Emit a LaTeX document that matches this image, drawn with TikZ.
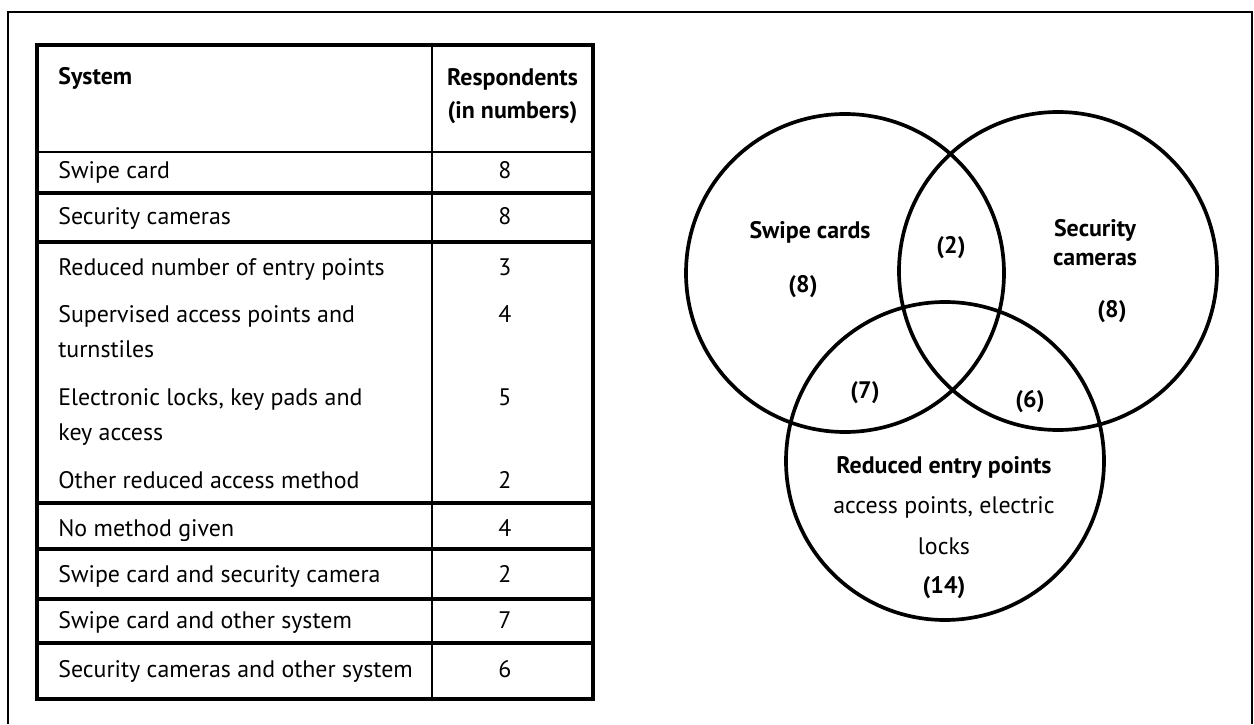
\documentclass[tikz,border=0pt]{standalone}
\usepackage{fontspec}
\setmainfont{PT Sans}
\usetikzlibrary{positioning}

\tikzset{
  cell/.style={anchor=base west, inner sep=0pt, font=\fontsize{13.6}{16}\selectfont},
  num/.style={anchor=base, inner sep=0pt, font=\fontsize{13.6}{16}\selectfont},
  head/.style={inner sep=0pt, font=\fontsize{13.6}{16}\selectfont\bfseries},
  ring/.style={draw, circle, line width=2.1pt, minimum size=6.36cm, inner sep=0pt},
  vtag/.style={inner sep=0pt, font=\fontsize{13.6}{16}\selectfont\bfseries},
  vtext/.style={inner sep=0pt, font=\fontsize{13.6}{16}\selectfont},
  fatrule/.style={line width=1.8pt},
  thinrule/.style={line width=0.7pt}
}

\begin{document}
\begin{tikzpicture}
  \useasboundingbox (0,0) rectangle (25.08,14.48);
  % Outer frame
  \draw[thinrule] (0.16,0) -- (0.16,14.24) -- (25.04,14.24) -- (25.04,0);
  % Table rules
  \draw[thinrule] (0.74,11.44) -- (11.86,11.44);
  \draw[thinrule] (8.64,13.58) -- (8.64,0.50);
  \foreach \y in {10.62,9.64,4.42,3.50,2.50,1.62}
    \draw[fatrule] (0.74,\y) -- (11.86,\y);
  \draw[fatrule] (0.74,0.50) rectangle (11.86,13.58);
  % Table header
  \node[head, anchor=base west] (syshead) at (1.16,12.78) {System};
  \node[head, anchor=base] (reshead) at (10.25,12.76) {Respondents};
  \node[head, anchor=base] (reshead2) at (10.25,12.10) {(in numbers)};
  % Table rows
  \node[cell] (r1) at (1.16,10.90) {Swipe card};
  \node[num] (n1) at (10.10,10.90) {8};
  \node[cell] (r2) at (1.16,9.98) {Security cameras};
  \node[num] (n2) at (10.10,9.98) {8};
  \node[cell] (r3) at (1.16,8.96) {Reduced number of entry points};
  \node[num] (n3) at (10.10,8.96) {3};
  \node[cell] (r4) at (1.16,8.02) {Supervised access points and};
  \node[cell] (r4b) at (1.16,7.34) {turnstiles};
  \node[num] (n4) at (10.10,8.02) {4};
  \node[cell] (r5) at (1.16,6.38) {Electronic locks, key pads and};
  \node[cell] (r5b) at (1.16,5.68) {key access};
  \node[num] (n5) at (10.10,6.38) {5};
  \node[cell] (r6) at (1.16,4.72) {Other reduced access method};
  \node[num] (n6) at (10.10,4.72) {2};
  \node[cell] (r7) at (1.16,3.76) {No method given};
  \node[num] (n7) at (10.10,3.76) {4};
  \node[cell] (r8) at (1.16,2.84) {Swipe card and security camera};
  \node[num] (n8) at (10.10,2.84) {2};
  \node[cell] (r9) at (1.16,1.92) {Swipe card and other system};
  \node[num] (n9) at (10.10,1.92) {7};
  \node[cell] (r10) at (1.16,0.94) {Security cameras and other system};
  \node[num] (n10) at (10.10,0.94) {6};
  % Venn circles
  \node[ring] (swipe) at (16.90,9.02) {};
  \node[ring] (camera) at (21.16,9.06) {};
  \node[ring] (reduced) at (18.90,5.26) {};
  % Venn labels
  \node[vtag] (swipelbl) at (16.20,9.84) {Swipe cards};
  \node[vtag] (swipenum) at (16.06,8.74) {(8)};
  \node[vtag] (bothnum) at (19.02,9.52) {(2)};
  \node[vtag] (camlbl) at (21.90,9.87) {Security};
  \node[vtag] (camlbl2) at (21.90,9.29) {cameras};
  \node[vtag] (camnum) at (22.24,8.24) {(8)};
  \node[vtag] (swredn) at (17.30,6.62) {(7)};
  \node[vtag] (caredn) at (20.60,6.44) {(6)};
  \node[vtag] (redlbl) at (18.88,5.14) {Reduced entry points};
  \node[vtext] (redlbl2) at (18.88,4.34) {access points, electric};
  \node[vtext] (redlbl3) at (18.88,3.56) {locks};
  \node[vtag] (rednum) at (18.88,2.72) {(14)};
\end{tikzpicture}
\end{document}
